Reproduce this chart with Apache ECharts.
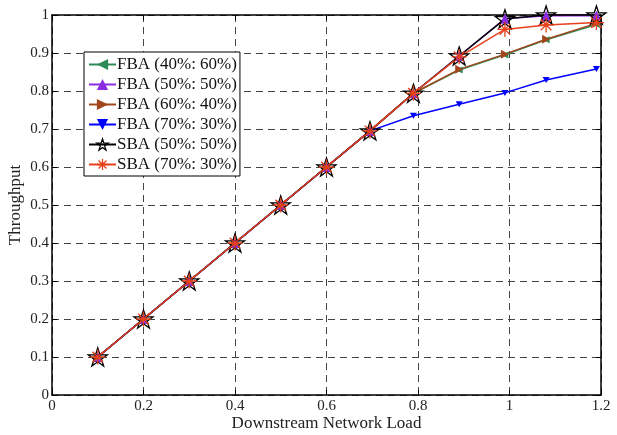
<!DOCTYPE html>
<html><head><meta charset="utf-8">
<script src="https://cdn.jsdelivr.net/npm/echarts@6/dist/echarts.min.js"></script>
<style>html,body{margin:0;padding:0;background:#fff}#c{width:617px;height:435px}</style>
</head><body><div id="c"></div>
<script>
const load = [0.1, 0.2, 0.3, 0.4, 0.5, 0.6, 0.695, 0.79, 0.89, 0.99, 1.08, 1.19];
const fba40 = [0.1, 0.2, 0.3, 0.4, 0.5, 0.6, 0.695, 0.794, 0.855, 0.895, 0.935, 0.975];
const fba50 = [0.1, 0.2, 0.3, 0.4, 0.5, 0.6, 0.695, 0.794, 0.892, 0.99, 0.998, 0.998];
const fba60 = [0.1, 0.2, 0.3, 0.4, 0.5, 0.6, 0.695, 0.794, 0.857, 0.897, 0.936, 0.978];
const fba70 = [0.1, 0.2, 0.3, 0.4, 0.5, 0.6, 0.695, 0.735, 0.765, 0.795, 0.829, 0.858];
const sba50 = [0.1, 0.2, 0.3, 0.4, 0.5, 0.6, 0.695, 0.794, 0.892, 0.99, 1.0, 1.0];
const sba70 = [0.1, 0.2, 0.3, 0.4, 0.5, 0.6, 0.695, 0.794, 0.89, 0.962, 0.974, 0.98];
const names = ['FBA (40%: 60%)', 'FBA (50%: 50%)', 'FBA (60%: 40%)', 'FBA (70%: 30%)', 'SBA (50%: 50%)', 'SBA (70%: 30%)'];

const pair = ys => load.map((x, i) => [x, ys[i]]);
const FONT = '"Liberation Serif", "Times New Roman", serif';
const STAR = 'path://M0,-10L2.245,-3.09L9.51,-3.09L3.63,1.18L5.88,8.09L0,3.82L-5.88,8.09L-3.63,1.18L-9.51,-3.09L-2.245,-3.09Z';
const AST = 'path://M0,-10L0,10M-10,0L10,0M-7.07,-7.07L7.07,7.07M-7.07,7.07L7.07,-7.07';
const LEFT = 'path://M0,5L10,0L10,10Z';
const RIGHT = 'path://M10,5L0,0L0,10Z';
const DOWN = 'path://M0,0L10,0L5,10Z';

function ser(name, data, color, symbol, size, extra) {
  return Object.assign({
    name, type: 'line', data: pair(data), symbol, symbolSize: size,
    showSymbol: true, clip: false, animation: false,
    lineStyle: { color, width: 1.5 },
    itemStyle: { color, borderColor: color, borderWidth: 0 }
  }, extra || {});
}

const chart = echarts.init(document.getElementById('c'), null, { renderer: 'canvas' });
const axisLabel = { color: '#222', fontFamily: FONT, fontSize: 15 };
const legendData = names.map(n => ({ name: n }));
legendData[4].itemStyle = { color: 'rgba(255,255,255,0)', borderColor: '#000', borderWidth: 1.3 };
legendData[5].itemStyle = { color: '#e8401a', borderColor: '#e8401a', borderWidth: 1.3 };
chart.setOption({
  backgroundColor: '#fff',
  animation: false,
  grid: { left: 52, right: 16, top: 15, bottom: 40, show: false, containLabel: false, outerBoundsMode: 'none' },
  legend: {
    orient: 'vertical', left: 84, top: 52,
    backgroundColor: '#fff', borderColor: '#000', borderWidth: 1,
    padding: [4, 3, 3, 4], itemGap: 3, itemWidth: 27, itemHeight: 14,
    textStyle: { fontFamily: FONT, fontSize: 17, color: '#111', padding: [0, 0, 0, -4] },
    data: legendData
  },
  xAxis: [{
    type: 'value', min: 0, max: 1.2, interval: 0.2,
    name: 'Downstream Network Load', nameLocation: 'middle', nameGap: 20, nameMoveOverlap: false,
    nameTextStyle: { fontFamily: FONT, fontSize: 17, color: '#222' },
    axisLine: { show: true, onZero: false, lineStyle: { color: '#000', width: 1.5 } },
    axisTick: { show: true, inside: true, length: 5, lineStyle: { color: '#000' } },
    axisLabel: Object.assign({ margin: 4 }, axisLabel),
    splitLine: { show: true, lineStyle: { color: '#444', type: [7, 5], width: 1 } }
  }, {
    type: 'value', min: 0, max: 1.2, interval: 0.2, position: 'top',
    axisLine: { show: true, onZero: false, lineStyle: { color: '#000', width: 1.5 } },
    axisTick: { show: true, inside: true, length: 5, lineStyle: { color: '#000' } },
    axisLabel: { show: false }, splitLine: { show: false }
  }],
  yAxis: [{
    type: 'value', min: 0, max: 1, interval: 0.1,
    name: 'Throughput', nameLocation: 'middle', nameGap: 28, nameMoveOverlap: false,
    nameTextStyle: { fontFamily: FONT, fontSize: 17, color: '#222' },
    axisLine: { show: true, onZero: false, lineStyle: { color: '#000', width: 1.5 } },
    axisTick: { show: true, inside: true, length: 5, lineStyle: { color: '#000' } },
    axisLabel: Object.assign({ margin: 3 }, axisLabel),
    splitLine: { show: true, lineStyle: { color: '#444', type: [7, 5], width: 1 } }
  }, {
    type: 'value', min: 0, max: 1, interval: 0.1, position: 'right',
    axisLine: { show: true, onZero: false, lineStyle: { color: '#000', width: 1.5 } },
    axisTick: { show: true, inside: true, length: 5, lineStyle: { color: '#000' } },
    axisLabel: { show: false }, splitLine: { show: false }
  }],
  series: [
    ser(names[0], fba40, '#2e8b57', LEFT, [7, 7]),
    ser(names[1], fba50, '#8a2be2', 'triangle', 10),
    ser(names[2], fba60, '#a0461a', RIGHT, [8, 9]),
    ser(names[3], fba70, '#0000ff', DOWN, [7, 6]),
    ser(names[4], sba50, '#000000', STAR, [19, 18], {
      itemStyle: { color: 'rgba(255,255,255,0)', borderColor: '#000', borderWidth: 1.3 }
    }),
    ser(names[5], sba70, '#e8401a', AST, [15, 15], {
      itemStyle: { color: '#e8401a', borderColor: '#e8401a', borderWidth: 1.3 }
    })
  ]
});
</script></body></html>
